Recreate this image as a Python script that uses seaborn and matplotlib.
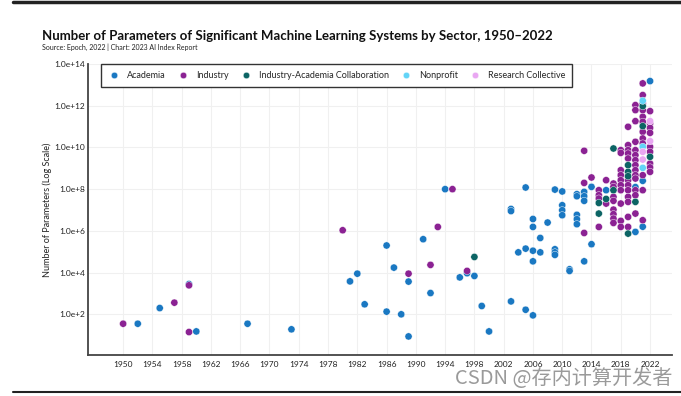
import numpy as np
import pandas as pd
import matplotlib.pyplot as plt
import seaborn as sns
from matplotlib.lines import Line2D

sectors = ['Academia', 'Industry', 'Industry-Academia Collaboration',
           'Nonprofit', 'Research Collective']
colors = ['#1a78c2', '#8b2293', '#0c6464', '#62d4f7', '#e9a7f2']

# values (log10 of parameter count)
academia_year = [1952, 1955, 1959, 1960, 1967, 1973, 1981, 1982, 1983, 1986, 1986, 1987,
                 1988, 1989, 1989, 1991, 1992, 1994, 1996, 1997, 1998, 1999, 2000,
                 2003, 2003, 2003, 2004, 2005, 2005, 2005, 2006, 2006, 2006, 2006, 2006,
                 2007, 2007, 2008, 2009, 2009, 2009, 2009, 2010, 2010, 2010, 2010,
                 2011, 2011, 2012, 2012, 2012, 2012, 2012, 2013, 2013, 2013, 2013,
                 2014, 2014, 2016, 2020, 2020, 2021, 2021, 2022]
academia_log = [1.55, 2.30, 3.45, 1.18, 1.55, 1.28, 3.58, 3.95, 2.48, 5.30, 2.13, 4.24,
                2.00, 3.57, 0.94, 5.60, 3.02, 8.00, 3.77, 3.97, 3.84, 2.40, 1.18,
                7.05, 6.95, 2.62, 4.97, 8.08, 5.15, 2.22, 6.57, 6.19, 5.05, 4.54, 1.95,
                5.66, 4.97, 6.40, 7.98, 5.12, 4.97, 4.85, 7.89, 7.23, 6.99, 6.75,
                4.16, 4.08, 7.76, 7.66, 6.77, 6.56, 6.32, 7.87, 7.66, 7.44, 4.54,
                8.11, 5.36, 7.95, 8.10, 5.95, 8.40, 6.20, 13.18]

industry_year = [1950, 1957, 1959, 1959, 1980, 1989, 1992, 1993, 1995, 1997,
                 2013, 2013, 2013, 2014,
                 2015, 2015, 2015, 2015,
                 2016, 2016,
                 2017, 2017, 2017, 2017, 2017, 2017, 2017, 2017,
                 2018, 2018, 2018, 2018, 2018, 2018, 2018, 2018, 2018, 2018,
                 2019, 2019, 2019, 2019, 2019, 2019, 2019, 2019, 2019, 2019, 2019, 2019,
                 2020, 2020, 2020, 2020, 2020, 2020, 2020, 2020, 2020, 2020, 2020, 2020, 2020, 2020,
                 2021, 2021, 2021, 2021, 2021, 2021, 2021, 2021, 2021, 2021, 2021, 2021,
                 2022, 2022, 2022, 2022, 2022, 2022, 2022, 2022, 2022]
industry_log = [1.55, 2.56, 3.39, 1.15, 6.03, 3.95, 4.37, 6.19, 8.00, 4.08,
                9.84, 8.30, 5.90, 8.56,
                7.95, 7.71, 7.55, 6.19,
                8.43, 7.31,
                8.27, 8.11, 7.63, 7.44, 7.02, 6.80, 6.59, 6.38,
                9.87, 9.74, 8.91, 8.67, 8.43, 8.19, 7.95, 7.31, 6.48, 6.19,
                10.99, 10.11, 9.87, 9.71, 9.47, 8.43, 8.19, 7.95, 7.63, 7.39, 6.67, 6.19,
                12.03, 11.79, 11.26, 10.27, 9.87, 9.63, 9.39, 9.15, 8.91, 8.67, 8.51, 7.95, 7.71, 6.83,
                13.07, 12.51, 12.11, 11.79, 11.47, 11.23, 10.75, 10.43, 10.19, 8.67, 7.95, 6.51,
                11.74, 11.15, 10.94, 10.70, 10.03, 9.79, 9.23, 9.04, 8.83]

collab_year = [1998, 2015, 2015, 2016, 2017, 2017, 2019, 2019, 2019, 2019, 2020, 2021, 2021, 2022]
collab_log = [4.75, 7.34, 6.83, 7.53, 7.95, 9.95, 9.15, 8.83, 8.62, 5.87, 7.39, 11.98, 11.02, 9.55]

nonprofit_year = [2021, 2021, 2021]
nonprofit_log = [12.24, 10.03, 9.02]

collective_year = [2021, 2021, 2022, 2022]
collective_log = [9.79, 9.42, 11.26, 10.30]

years = academia_year + industry_year + collab_year + nonprofit_year + collective_year
logs = academia_log + industry_log + collab_log + nonprofit_log + collective_log
labels = ([sectors[0]] * len(academia_year) + [sectors[1]] * len(industry_year)
          + [sectors[2]] * len(collab_year) + [sectors[3]] * len(nonprofit_year)
          + [sectors[4]] * len(collective_year))

df = pd.DataFrame({'Year': years, 'Parameters': 10 ** np.array(logs), 'Sector': labels})

sns.set_style('white')
plt.rcParams['font.family'] = ['Lato', 'DejaVu Sans']

fig = plt.figure(figsize=(6.81, 3.96), dpi=100)
ax = fig.add_axes([88 / 681, 1 - 355 / 396, 584 / 681, 291 / 396])

sns.scatterplot(
    data=df, x='Year', y='Parameters', hue='Sector', hue_order=sectors,
    palette=dict(zip(sectors, colors)), s=27, edgecolor='white', linewidth=0.3,
    ax=ax, zorder=3
)

ax.set_yscale('log')
ax.set_ylim(10 ** 0.05, 1e14)
ax.set_xlim(1945.2, 2025)
ax.set_xticks(range(1950, 2023, 4))
ax.set_yticks([10.0 ** e for e in range(2, 15, 2)])
ax.set_yticklabels([f'1.0e+{e}' for e in range(2, 15, 2)])
ax.minorticks_off()
ax.tick_params(axis='both', length=0, labelsize=6, colors='#222222')
ax.tick_params(axis='x', pad=4)
ax.tick_params(axis='y', pad=2)

ax.grid(True, color='#f0f0f0', linewidth=0.8, zorder=0)
ax.set_axisbelow(True)
for side in ['top', 'right']:
    ax.spines[side].set_visible(False)
for side in ['left', 'bottom']:
    ax.spines[side].set_color('#444444')
    ax.spines[side].set_linewidth(1.3)

ax.set_xlabel('')
ax.set_ylabel('Number of Parameters (Log Scale)', fontsize=6.5, color='#222222', labelpad=2)

sns.move_legend(
    ax, 'upper left', bbox_to_anchor=(0.022, 1.0), ncol=5, title=None,
    frameon=True, fancybox=False, framealpha=1, edgecolor='#333333',
    fontsize=6.5, borderaxespad=0, columnspacing=1.2, handletextpad=0.75,
    handlelength=1.4, borderpad=0.75, markerscale=0.9
)
ax.get_legend().get_frame().set_linewidth(1.0)

fig.text(42 / 681, 1 - 36 / 396,
         'Number of Parameters of Significant Machine Learning Systems by Sector, 1950–2022',
         fontsize=9.5, fontweight='bold', va='center', color='#111111')
fig.text(42 / 681, 1 - 47 / 396, 'Source: Epoch, 2022 | Chart: 2023 AI Index Report',
         fontsize=5, va='center', color='#222222')

fig.add_artist(Line2D([13 / 681, 1], [1 - 1.5 / 396] * 2, color='#222222', lw=2.5))
fig.add_artist(Line2D([13 / 681, 1], [1 - 392 / 396] * 2, color='#222222', lw=1.5))

fig.text(455 / 681, 1 - 378 / 396, 'CSDN @存内计算开发者', fontsize=14.5, va='center',
         color='#9a9a9a', family=['Noto Sans CJK SC', 'DejaVu Sans'])

fig.savefig('out.png', dpi=100)
